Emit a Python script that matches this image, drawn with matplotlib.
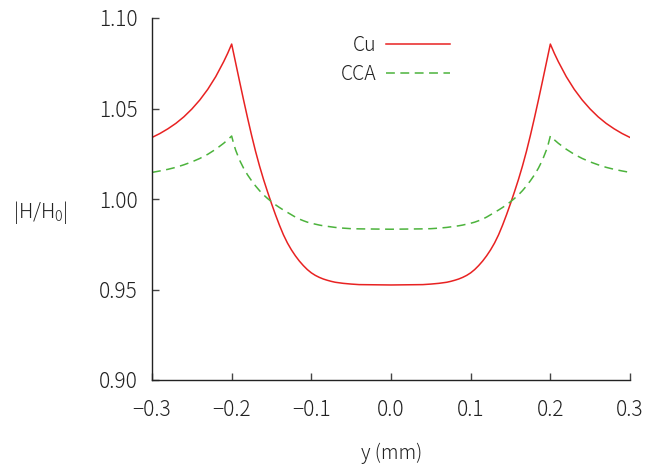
import matplotlib
matplotlib.use("Agg")
import matplotlib.pyplot as plt

plt.rcParams['font.family'] = ['Noto Sans CJK JP', 'DejaVu Sans']
plt.rcParams['font.weight'] = 'light'
plt.rcParams['mathtext.default'] = 'regular'

# position y (mm)
y_mm = [-0.30, -0.29, -0.28, -0.27, -0.26, -0.25, -0.24, -0.23, -0.22, -0.21,
        -0.205, -0.20, -0.1975, -0.195, -0.19, -0.185, -0.18, -0.175, -0.17, -0.165,
        -0.16, -0.155, -0.15, -0.145, -0.14, -0.135, -0.13, -0.125, -0.12, -0.115,
        -0.11, -0.105, -0.10, -0.095, -0.09, -0.085, -0.08, -0.075, -0.07, -0.06,
        -0.05, -0.04, -0.02, 0.00,
        0.02, 0.04, 0.05, 0.06, 0.07, 0.075, 0.08, 0.085, 0.09, 0.095,
        0.10, 0.105, 0.11, 0.115, 0.12, 0.125, 0.13, 0.135, 0.14, 0.145,
        0.15, 0.155, 0.16, 0.165, 0.17, 0.175, 0.18, 0.185, 0.19, 0.195,
        0.1975, 0.20, 0.205, 0.21, 0.22, 0.23, 0.24, 0.25, 0.26, 0.27,
        0.28, 0.29, 0.30]

cu = [1.0340, 1.0362, 1.0388, 1.0418, 1.0454, 1.0497, 1.0547, 1.0606, 1.0676, 1.0759,
      1.0805, 1.0856, 1.0804, 1.0752, 1.0648, 1.0546, 1.0447, 1.0352, 1.0263, 1.0182,
      1.0108, 1.0040, 0.9975, 0.9913, 0.9855, 0.9802, 0.9757, 0.9719, 0.9686, 0.9657,
      0.9632, 0.9610, 0.9592, 0.9578, 0.9567, 0.9558, 0.9551, 0.9545, 0.9540, 0.9534,
      0.9530, 0.9527, 0.9526, 0.9525,
      0.9526, 0.9527, 0.9530, 0.9534, 0.9540, 0.9545, 0.9551, 0.9558, 0.9567, 0.9578,
      0.9592, 0.9610, 0.9632, 0.9657, 0.9686, 0.9719, 0.9757, 0.9802, 0.9855, 0.9913,
      0.9975, 1.0040, 1.0108, 1.0182, 1.0263, 1.0352, 1.0447, 1.0546, 1.0648, 1.0752,
      1.0804, 1.0856, 1.0805, 1.0759, 1.0676, 1.0606, 1.0547, 1.0497, 1.0454, 1.0418,
      1.0388, 1.0362, 1.0340]

cca = [1.0147, 1.0155, 1.0164, 1.0175, 1.0189, 1.0205, 1.0224, 1.0247, 1.0275, 1.0308,
       1.0327, 1.0348, 1.0305, 1.0270, 1.0214, 1.0170, 1.0133, 1.0101, 1.0072, 1.0046,
       1.0023, 1.0003, 0.9985, 0.9968, 0.9953, 0.9939, 0.9926, 0.9913, 0.9900, 0.9889,
       0.9880, 0.9872, 0.9866, 0.9861, 0.9856, 0.9852, 0.9849, 0.9846, 0.9843, 0.9839,
       0.9836, 0.9835, 0.9834, 0.9833,
       0.9834, 0.9835, 0.9836, 0.9839, 0.9843, 0.9846, 0.9849, 0.9852, 0.9856, 0.9861,
       0.9866, 0.9872, 0.9880, 0.9889, 0.9900, 0.9913, 0.9926, 0.9939, 0.9953, 0.9968,
       0.9985, 1.0003, 1.0023, 1.0046, 1.0072, 1.0101, 1.0133, 1.0170, 1.0214, 1.0270,
       1.0305, 1.0348, 1.0327, 1.0308, 1.0275, 1.0247, 1.0224, 1.0205, 1.0189, 1.0175,
       1.0164, 1.0155, 1.0147]

x_ticks = [-0.3, -0.2, -0.1, 0.0, 0.1, 0.2, 0.3]
x_tick_labels = ['\u22120.3', '\u22120.2', '\u22120.1', '0.0', '0.1', '0.2', '0.3']
y_ticks = [0.90, 0.95, 1.00, 1.05, 1.10]
y_tick_labels = ['0.90', '0.95', '1.00', '1.05', '1.10']

fig = plt.figure(figsize=(6.62, 4.68), dpi=100)
ax = fig.add_axes([152/662, 88/468, 478/662, 362/468])

ax.plot(y_mm, cu, color='#e82222', lw=1.1, label='Cu')
ax.plot(y_mm, cca, color='#4cb33c', lw=1.1, dashes=(5.8, 3.6), label='CCA')

ax.set_xlim(-0.3, 0.3)
ax.set_ylim(0.90, 1.10)
ax.set_xticks(x_ticks)
ax.set_xticklabels(x_tick_labels)
ax.set_yticks(y_ticks)
ax.set_yticklabels(y_tick_labels)

for s in ['top', 'right']:
    ax.spines[s].set_visible(False)
for s in ['left', 'bottom']:
    ax.spines[s].set_color('#222222')
    ax.spines[s].set_linewidth(1.0)

ax.tick_params(axis='both', direction='in', length=5, width=1.0, color='#444444',
               labelsize=15, labelcolor='#222222')
ax.tick_params(axis='x', pad=14)
ax.tick_params(axis='y', pad=10)

fig.text(392/662, 1 - 453/468, 'y (mm)', ha='center', va='center', fontsize=14, color='#222222')
fig.text(13/662, 1 - 213/468, '|H/H$_0$|', ha='left', va='center', fontsize=14.5, color='#222222')

leg = ax.legend(loc='upper left', bbox_to_anchor=(0.37, 0.985), frameon=False, markerfirst=False,
                fontsize=14, handlelength=3.3, handletextpad=0.5, labelspacing=0.4,
                borderaxespad=0.2)
for t in leg.get_texts():
    t.set_color('#222222')

fig.savefig('out.png', dpi=100)
